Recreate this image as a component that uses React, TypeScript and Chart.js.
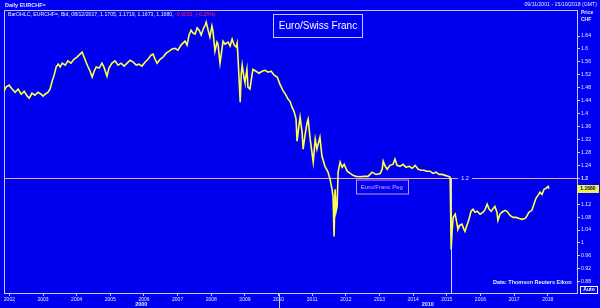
import React, { useEffect, useRef } from 'react';
import { Chart, registerables } from 'chart.js';

Chart.register(...registerables);

// Decimal years (x) and EUR/CHF closes (y)
const years: number[] = [
  2001.84, 2001.90, 2001.99, 2002.08, 2002.17, 2002.26, 2002.35, 2002.44, 2002.53, 2002.59,
  2002.67, 2002.76, 2002.85, 2002.94, 2003.00, 2003.06, 2003.15, 2003.21, 2003.27, 2003.33,
  2003.39, 2003.45, 2003.51, 2003.57, 2003.66, 2003.74, 2003.83, 2003.92, 2004.01, 2004.10,
  2004.16, 2004.22, 2004.28, 2004.34, 2004.40, 2004.46, 2004.52, 2004.58, 2004.67, 2004.75,
  2004.81, 2004.90, 2004.96, 2005.05, 2005.14, 2005.23, 2005.32, 2005.41, 2005.50, 2005.59,
  2005.68, 2005.77, 2005.85, 2005.94, 2006.03, 2006.12, 2006.21, 2006.27, 2006.33, 2006.39,
  2006.48, 2006.57, 2006.66, 2006.75, 2006.84, 2006.92, 2007.01, 2007.10, 2007.16, 2007.22,
  2007.28, 2007.34, 2007.40, 2007.46, 2007.52, 2007.58, 2007.64, 2007.70, 2007.76, 2007.82,
  2007.85, 2007.90, 2007.96, 2008.02, 2008.05, 2008.11, 2008.17, 2008.20, 2008.26, 2008.32,
  2008.35, 2008.41, 2008.50, 2008.56, 2008.62, 2008.68, 2008.74, 2008.77, 2008.80, 2008.86,
  2008.89, 2008.92, 2008.98, 2009.00, 2009.06, 2009.09, 2009.15, 2009.21, 2009.24, 2009.33,
  2009.42, 2009.51, 2009.60, 2009.69, 2009.78, 2009.87, 2009.96, 2010.04, 2010.13, 2010.22,
  2010.28, 2010.34, 2010.40, 2010.46, 2010.52, 2010.55, 2010.61, 2010.64, 2010.70, 2010.73,
  2010.79, 2010.85, 2010.88, 2010.94, 2011.00, 2011.03, 2011.09, 2011.14, 2011.20, 2011.23,
  2011.29, 2011.38, 2011.47, 2011.53, 2011.59, 2011.62, 2011.65, 2011.68, 2011.71, 2011.74,
  2011.77, 2011.83, 2011.89, 2011.95, 2012.04, 2012.13, 2012.21, 2012.30, 2012.42, 2012.54,
  2012.66, 2012.78, 2012.90, 2013.02, 2013.08, 2013.11, 2013.17, 2013.23, 2013.31, 2013.40,
  2013.46, 2013.52, 2013.61, 2013.70, 2013.79, 2013.88, 2013.97, 2014.06, 2014.15, 2014.24,
  2014.32, 2014.41, 2014.50, 2014.59, 2014.68, 2014.77, 2014.86, 2014.95, 2015.04, 2015.10,
  2015.13, 2015.16, 2015.19, 2015.25, 2015.31, 2015.33, 2015.39, 2015.45, 2015.51, 2015.54,
  2015.60, 2015.66, 2015.72, 2015.78, 2015.84, 2015.90, 2015.99, 2016.08, 2016.14, 2016.20,
  2016.26, 2016.32, 2016.38, 2016.43, 2016.49, 2016.52, 2016.58, 2016.64, 2016.73, 2016.79,
  2016.88, 2016.97, 2017.06, 2017.15, 2017.24, 2017.33, 2017.39, 2017.44, 2017.53, 2017.59,
  2017.65, 2017.71, 2017.77, 2017.83, 2017.89, 2017.95, 2018.01, 2018.04,
];

const prices: number[] = [
  1.469, 1.482, 1.488, 1.476, 1.466, 1.476, 1.460, 1.469, 1.454, 1.448,
  1.463, 1.457, 1.466, 1.460, 1.454, 1.460, 1.466, 1.476, 1.500, 1.519,
  1.544, 1.553, 1.544, 1.556, 1.550, 1.563, 1.556, 1.568, 1.575, 1.584,
  1.590, 1.575, 1.559, 1.544, 1.531, 1.513, 1.531, 1.544, 1.541, 1.556,
  1.544, 1.516, 1.541, 1.556, 1.563, 1.550, 1.556, 1.547, 1.556, 1.565,
  1.559, 1.550, 1.553, 1.547, 1.559, 1.568, 1.581, 1.584, 1.568, 1.556,
  1.568, 1.575, 1.587, 1.593, 1.600, 1.602, 1.596, 1.612, 1.618, 1.624,
  1.612, 1.643, 1.658, 1.649, 1.646, 1.665, 1.658, 1.643, 1.661, 1.674,
  1.683, 1.661, 1.637, 1.671, 1.655, 1.593, 1.621, 1.615, 1.556, 1.600,
  1.624, 1.615, 1.621, 1.609, 1.630, 1.612, 1.606, 1.618, 1.563, 1.435,
  1.522, 1.550, 1.506, 1.497, 1.537, 1.482, 1.476, 1.519, 1.537, 1.531,
  1.525, 1.531, 1.534, 1.528, 1.531, 1.519, 1.513, 1.491, 1.472, 1.457,
  1.445, 1.438, 1.420, 1.407, 1.383, 1.315, 1.367, 1.389, 1.342, 1.290,
  1.336, 1.373, 1.383, 1.321, 1.274, 1.250, 1.321, 1.290, 1.315, 1.327,
  1.268, 1.237, 1.219, 1.197, 1.166, 1.144, 1.020, 1.166, 1.098, 1.113,
  1.219, 1.250, 1.234, 1.243, 1.222, 1.215, 1.209, 1.206, 1.205, 1.206,
  1.206, 1.219, 1.212, 1.215, 1.228, 1.253, 1.237, 1.228, 1.240, 1.243,
  1.259, 1.240, 1.237, 1.243, 1.234, 1.237, 1.231, 1.240, 1.228, 1.225,
  1.225, 1.222, 1.222, 1.215, 1.219, 1.212, 1.212, 1.209, 1.206, 1.203,
  0.980, 1.042, 1.079, 1.089, 1.055, 1.042, 1.055, 1.058, 1.042, 1.036,
  1.055, 1.073, 1.098, 1.104, 1.095, 1.098, 1.089, 1.095, 1.104, 1.120,
  1.104, 1.098, 1.107, 1.113, 1.095, 1.070, 1.089, 1.095, 1.101, 1.098,
  1.085, 1.079, 1.079, 1.076, 1.073, 1.076, 1.085, 1.095, 1.101, 1.120,
  1.138, 1.147, 1.157, 1.150, 1.166, 1.169, 1.175, 1.168,
];

const xTickYears: number[] = [
  2002, 2003, 2004, 2005, 2006, 2007, 2008, 2009, 2010,
  2011, 2012, 2013, 2014, 2015, 2016, 2017, 2018,
];
const yTickValues: number[] = [
  0.88, 0.92, 0.96, 1, 1.04, 1.08, 1.12, 1.2, 1.24, 1.28, 1.32,
  1.36, 1.4, 1.44, 1.48, 1.52, 1.56, 1.6, 1.64,
];

const xMin = 2001.84;
const xMax = 2018.87;
const yMin = 0.8453;
const yMax = 1.7204;

const pegLevel = 1.2;
const pegEndYear = 2015.13;
const pegLabelYear = 2015.54;
const pegBoxYear = 2013.07;
const lastPrice = 1.168;

const decadeNames = ['2000', '2010'];
const decadeStarts = [2000, 2010];

const titleText = 'Euro/Swiss Franc';
const pegText = 'Euro/Franc Peg';
const headerLeft = 'Daily EURCHF=';
const headerInfo = 'BarOHLC, EURCHF=, Bid, 08/12/2017, 1.1705, 1.1719, 1.1673, 1.1680, ';
const headerChange = '-0.0031, (-0.26%)';
const headerRange = '09/11/2001 - 15/10/2018 (GMT)';
const sourceText = 'Data: Thomson Reuters Eikon';

const BG = '#0000f0';
const TXT = '#e8e8ff';
const AXIS = '#c8c8f0';
const PEG = '#eaa8c0';
const FONT = "'Liberation Sans', Arial, sans-serif";

export default function App() {
  const ref = useRef<HTMLCanvasElement>(null);

  useEffect(() => {
    const canvas = ref.current;
    if (!canvas) return;

    const overlay = {
      id: 'overlay',
      beforeDraw(chart: any) {
        const c = chart.ctx;
        c.save();
        c.fillStyle = BG;
        c.fillRect(0, 0, chart.width, chart.height);
        c.restore();
      },
      beforeDatasetsDraw(chart: any) {
        const c = chart.ctx;
        const a = chart.chartArea;
        const x = chart.scales.x;
        const y = chart.scales.y;
        c.save();
        c.strokeStyle = AXIS;
        c.lineWidth = 1;
        c.beginPath();
        c.moveTo(a.left + 0.5, a.bottom);
        c.lineTo(a.left + 0.5, a.top + 0.5);
        c.lineTo(a.right, a.top + 0.5);
        c.stroke();

        const py = Math.round(y.getPixelForValue(pegLevel)) + 0.5;
        const lx = x.getPixelForValue(pegLabelYear);
        c.strokeStyle = PEG;
        c.beginPath();
        c.moveTo(a.left, py);
        c.lineTo(lx - 7, py);
        c.moveTo(lx + 7, py);
        c.lineTo(a.right, py);
        c.stroke();
        c.fillStyle = TXT;
        c.font = `5.5px ${FONT}`;
        c.textAlign = 'center';
        c.textBaseline = 'middle';
        c.fillText(String(pegLevel), lx, py);

        const vx = Math.round(x.getPixelForValue(pegEndYear)) + 0.5;
        c.strokeStyle = '#d8d0f8';
        c.beginPath();
        c.moveTo(vx, py);
        c.lineTo(vx, a.bottom);
        c.stroke();

        const bx = x.getPixelForValue(pegBoxYear);
        c.strokeStyle = '#c890e0';
        c.strokeRect(Math.round(bx - 26) + 0.5, py + 1.5, 52, 14);
        c.fillStyle = '#d8a8f0';
        c.font = `6px ${FONT}`;
        c.fillText(pegText, bx, py + 9);
        c.restore();
      },
      afterDraw(chart: any) {
        const c = chart.ctx;
        const a = chart.chartArea;
        const x = chart.scales.x;
        const y = chart.scales.y;
        c.save();
        c.textBaseline = 'middle';

        c.strokeStyle = '#c8c8ff';
        c.lineWidth = 1;
        c.strokeRect(273.5, 14.5, 89, 23);
        c.fillStyle = '#ffffff';
        c.font = `10px ${FONT}`;
        c.textAlign = 'center';
        c.fillText(titleText, 318, 26);

        c.textAlign = 'left';
        c.fillStyle = TXT;
        c.font = `bold 5.5px ${FONT}`;
        c.fillText(headerLeft, 5, 5);
        c.font = `5.2px ${FONT}`;
        c.fillText(headerInfo, 8, 15);
        const w = c.measureText(headerInfo).width;
        c.fillStyle = '#ff3040';
        c.fillText(headerChange, 8 + w, 15);
        c.fillStyle = TXT;
        c.textAlign = 'right';
        c.fillText(headerRange, 597, 5);

        c.textAlign = 'left';
        c.font = `bold 5px ${FONT}`;
        c.fillText('Price', 581, 13);
        c.fillText('CHF', 581, 20);

        const yy = Math.round(y.getPixelForValue(lastPrice));
        c.fillStyle = '#f0f050';
        c.fillRect(577, yy - 4, 22, 8);
        c.fillStyle = '#000040';
        c.textAlign = 'center';
        c.font = `bold 5px ${FONT}`;
        c.fillText(lastPrice.toFixed(4), 588, yy);

        c.strokeStyle = '#ffffff';
        c.strokeRect(580.5, 286.5, 17, 7);
        c.fillStyle = '#ffffff';
        c.font = `bold 5px ${FONT}`;
        c.fillText('Auto', 589, 290);

        c.textAlign = 'left';
        c.fillStyle = TXT;
        c.font = `bold 5.5px ${FONT}`;
        c.fillText(sourceText, 493, 282);

        c.textAlign = 'center';
        c.font = `bold 5.5px ${FONT}`;
        c.strokeStyle = AXIS;
        decadeStarts.forEach((s, i) => {
          const from = Math.max(s, xMin);
          const to = Math.min(s + 10, xMax);
          const cx = x.getPixelForValue((from + to) / 2);
          c.fillText(decadeNames[i], cx, 304);
          if (s > xMin && s < xMax) {
            const sx = Math.round(x.getPixelForValue(s)) + 0.5;
            c.beginPath();
            c.moveTo(sx, a.bottom);
            c.lineTo(sx, chart.height);
            c.stroke();
          }
        });
        c.restore();
      },
    };

    const points = years.map((yr, i) => ({ x: yr, y: prices[i] }));

    const chart = new Chart(canvas, {
      type: 'line',
      data: {
        datasets: [
          {
            data: points,
            borderColor: '#ffff48',
            borderWidth: 1.6,
            pointRadius: 0,
            tension: 0,
            fill: false,
          },
        ],
      },
      options: {
        animation: false,
        responsive: false,
        devicePixelRatio: 1,
        layout: { padding: { left: 4, top: 10, right: 0, bottom: 0 } },
        plugins: { legend: { display: false }, tooltip: { enabled: false } },
        scales: {
          x: {
            type: 'linear',
            position: 'bottom',
            min: xMin,
            max: xMax,
            ticks: {
              stepSize: 1,
              autoSkip: false,
              maxRotation: 0,
              padding: 1,
              color: TXT,
              font: { family: FONT, size: 5 },
              callback: (v: any) => String(Math.round(Number(v))),
            },
            grid: { drawOnChartArea: false, drawTicks: true, tickLength: 3, color: AXIS },
            border: { display: true, color: AXIS },
            afterBuildTicks: (s: any) => {
              s.ticks = xTickYears.map((v) => ({ value: v }));
            },
            afterFit: (s: any) => {
              s.height = 15;
              s.paddingLeft = 0;
              s.paddingRight = 0;
            },
          },
          y: {
            type: 'linear',
            position: 'right',
            min: yMin,
            max: yMax,
            ticks: {
              stepSize: 0.04,
              padding: 1,
              color: TXT,
              font: (ctx: any) => ({
                family: FONT,
                size: 5.2,
                weight: ctx.tick && Math.abs(ctx.tick.value - pegLevel) < 1e-6 ? 'bold' : 'normal',
              }),
              callback: (v: any) => String(parseFloat(Number(v).toFixed(2))),
            },
            grid: { drawOnChartArea: false, drawTicks: true, tickLength: 3, color: AXIS },
            border: { display: true, color: AXIS },
            afterBuildTicks: (s: any) => {
              s.ticks = yTickValues.map((v) => ({ value: v }));
            },
            afterFit: (s: any) => {
              s.width = 23;
              s.paddingTop = 0;
              s.paddingBottom = 0;
            },
          },
        },
      },
      plugins: [overlay],
    } as any);

    return () => chart.destroy();
  }, []);

  return (
    <div style={{ position: 'fixed', left: 0, top: 0, width: 600, height: 308, background: BG }}>
      <canvas ref={ref} width={600} height={308} style={{ display: 'block', width: 600, height: 308 }} />
    </div>
  );
}
